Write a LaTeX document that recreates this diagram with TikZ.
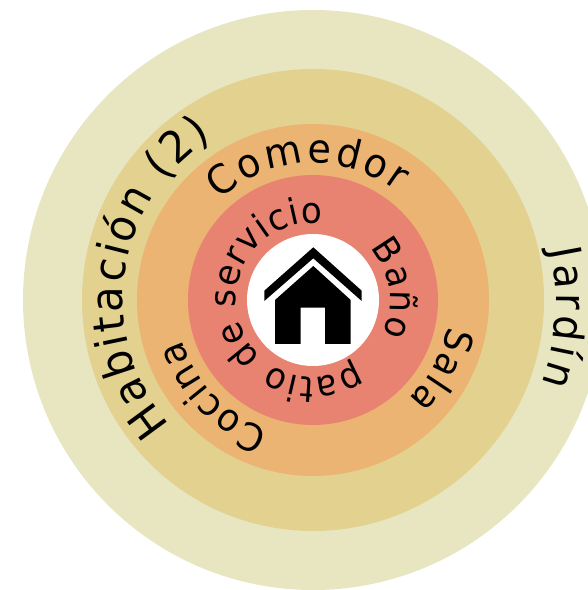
\documentclass[tikz,border=0pt]{standalone}
\usepackage{fontspec}
\setmainfont[FakeStretch=0.95]{DejaVu Sans}
\usetikzlibrary{decorations.text}
\definecolor{ringD}{HTML}{E7E6C1}
\definecolor{ringC}{HTML}{E3D190}
\definecolor{ringB}{HTML}{ECB473}
\definecolor{ringA}{HTML}{E88372}
\newcommand{\ringtext}[5]{%
  \path[decorate,decoration={text along path,text align=fit to path,
    text={|\fontsize{#1pt}{#1pt}\selectfont|#5}}]
    (313pt,290pt) ++(#3:#2pt) arc[start angle=#3,end angle=#4,radius=#2pt];}
\begin{document}
\begin{tikzpicture}[x=1pt,y=1pt]
\useasboundingbox (0,0) rectangle (588,590);
\clip (0,0) rectangle (588,590);
\fill[ringD] (313,290) circle[radius=290pt];
\fill[ringC] (313,290) circle[radius=231pt];
\fill[ringB] (313,290) circle[radius=176pt];
\fill[ringA] (313,290) circle[radius=125pt];
\fill[white] (313,290) circle[radius=66pt];
% house
\fill[black] (313.3,342.7) -- (361.7,299.3) -- (361.7,289) -- (313.3,331.7) -- (264.3,289) -- (264.3,299.3) -- cycle;
\fill[black] (313.3,324) -- (350.7,290) -- (350.7,246) -- (325,246) -- (325,282.3) -- (300.7,282.3) -- (300.7,246) -- (275,246) -- (275,290) -- cycle;
% labels
\ringtext{42}{243}{12}{-20}{Jardín}
\ringtext{44}{190}{221}{122}{Habitación (2)}
\ringtext{40}{137}{133}{52}{Comedor}
\ringtext{38}{138}{-11}{-46}{Sala}
\ringtext{38}{137}{-109}{-163}{Cocina}
\ringtext{36}{77}{42}{-26}{Baño}
\ringtext{36}{77}{-56}{-277}{patio de servicio}
\end{tikzpicture}
\end{document}
